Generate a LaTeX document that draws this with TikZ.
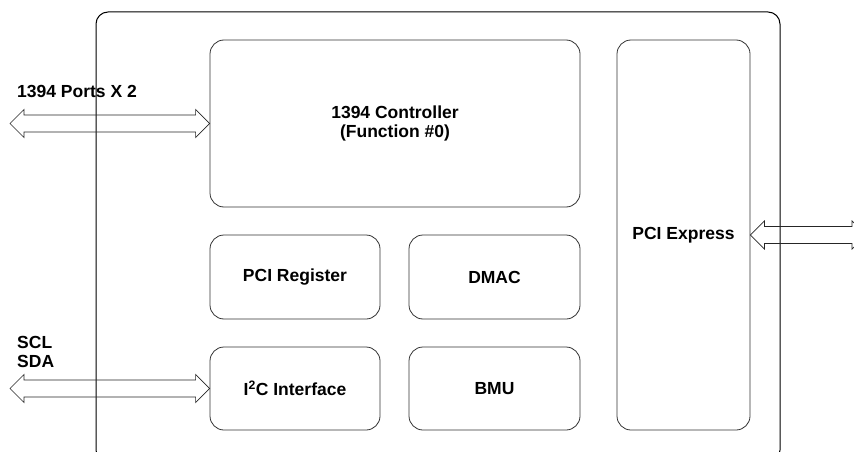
\documentclass[tikz,border=0pt]{standalone}
\usepackage{fontspec}
\setmainfont{Liberation Sans}
\usepackage{tikz}
\usetikzlibrary{calc}

\newcommand{\fatarrow}[2]{%
\draw[fat] (#1) -- ($(#1)+(14,-14)$) -- ($(#1)+(14,-8.5)$) -- ($(#2)+(-14,-8.5)$)
  -- ($(#2)+(-14,-14)$) -- (#2) -- ($(#2)+(-14,14)$) -- ($(#2)+(-14,8.5)$)
  -- ($(#1)+(14,8.5)$) -- ($(#1)+(14,14)$) -- cycle;}

\begin{document}
\begin{tikzpicture}[x=1pt,y=-1pt,
  blk/.style={draw=black!80, line width=0.8pt, rounded corners=14pt, inner sep=0pt,
    align=center, font=\fontsize{17.5}{19}\selectfont\bfseries},
  lbl/.style={inner sep=0pt, align=left, font=\fontsize{17.5}{19}\selectfont\bfseries},
  fat/.style={draw=black!85, line width=0.7pt, line join=miter}]

\useasboundingbox (0,0) rectangle (854,452);
\clip (0,0) rectangle (854,452);

\draw[line width=1pt, rounded corners=12pt] (96,12) rectangle (780,462);

\node[blk, minimum width=370, minimum height=167] (ctrl) at (395,123.5) {1394 Controller\\(Function \#0)};
\node[blk, minimum width=133, minimum height=390] (pcie) at (683.5,235) {PCI Express};

\node[blk, minimum width=170, minimum height=84] (preg) at (295,277) {PCI Register};
\node[blk, minimum width=171, minimum height=84] (dmac) at (494.5,277) {DMAC};
\node[blk, minimum width=170, minimum height=83] (iic) at (295,388.5) {I\textsuperscript{2}C Interface};
\node[blk, minimum width=171, minimum height=83] (bmu) at (494.5,388.5) {BMU};

\node[lbl, anchor=west] (ports) at (17,91) {1394 Ports X 2};
\node[lbl, anchor=west] (bus) at (17,351.5) {SCL\\SDA};

\coordinate (pin1) at (10,123.5);
\coordinate (pin2) at (10,388.5);
\coordinate (pin3) at (866,235);

\fatarrow{pin1}{ctrl.west}
\fatarrow{pin2}{iic.west}
\fatarrow{pcie.east}{pin3}
\end{tikzpicture}
\end{document}
